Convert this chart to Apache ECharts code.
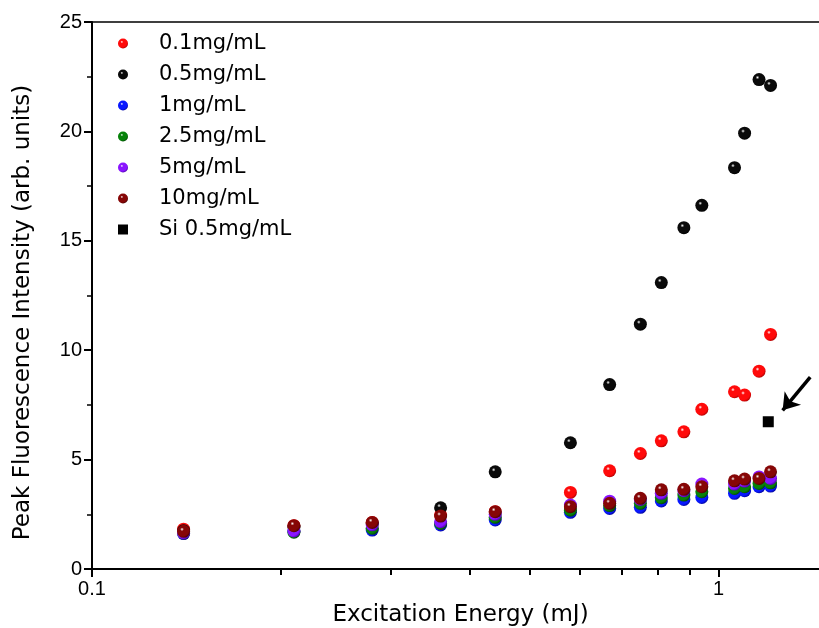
<!DOCTYPE html>
<html>
<head>
<meta charset="utf-8">
<script src="https://cdn.jsdelivr.net/npm/echarts@6/dist/echarts.min.js"></script>
<style>
  html, body { margin: 0; padding: 0; background: #fff; }
</style>
</head>
<body>
<div id="chart" style="width: 819px; height: 628px;"></div>
<script>
// excitation energy (mJ), shared by the six concentration series
const energy = [0.14, 0.21, 0.28, 0.36, 0.44, 0.58, 0.67, 0.75, 0.81, 0.88, 0.94, 1.06, 1.10, 1.16, 1.21]

const conc01 = [1.82, 1.98, 2.12, 2.48, 2.62, 3.50, 4.49, 5.28, 5.86, 6.27, 7.30, 8.10, 7.95, 9.04, 10.72]
const conc05 = [1.75, 1.92, 2.08, 2.80, 4.44, 5.77, 8.43, 11.19, 13.09, 15.60, 16.62, 18.34, 19.92, 22.37, 22.10]
const conc1 = [1.62, 1.72, 1.78, 2.01, 2.24, 2.59, 2.77, 2.82, 3.11, 3.18, 3.27, 3.46, 3.58, 3.76, 3.79]
const conc25 = [1.64, 1.68, 1.86, 2.08, 2.36, 2.69, 2.90, 3.00, 3.26, 3.38, 3.53, 3.68, 3.76, 3.91, 3.94]
const conc5 = [1.65, 1.74, 2.02, 2.16, 2.50, 2.92, 3.10, 3.18, 3.46, 3.58, 3.88, 3.88, 4.02, 4.21, 4.14]
const conc10 = [1.72, 1.98, 2.13, 2.42, 2.62, 2.85, 3.00, 3.23, 3.62, 3.64, 3.76, 4.03, 4.11, 4.14, 4.44]

const siEnergy = [1.20]
const siValue = [6.73]

const seriesNames = ['0.1mg/mL', '0.5mg/mL', '1mg/mL', '2.5mg/mL', '5mg/mL', '10mg/mL']
const seriesValues = [conc01, conc05, conc1, conc25, conc5, conc10]
const baseColors = ['#ff0a0a', '#0a0a0a', '#0818ff', '#07820a', '#8a14ff', '#860606']
const darkColors = ['#a00000', '#000000', '#00008c', '#003c00', '#40009c', '#400000']

const xLabels = [0.1, 1]
const xMinor = [0.2, 0.3, 0.4, 0.5, 0.6, 0.7, 0.8, 0.9]

// arrow pointing at the Si point (data coords)
const arrowFrom = [1.40, 8.77]
const arrowTo = [1.265, 7.25]

const font = 'Liberation Sans, Arial, sans-serif'
const wideFont = 'DejaVu Sans, Liberation Sans, sans-serif'

function sphere(base, dark) {
  return {
    type: 'radial', x: 0.38, y: 0.34, r: 0.72,
    colorStops: [
      { offset: 0, color: '#ffffff' },
      { offset: 0.2, color: base },
      { offset: 0.72, color: base },
      { offset: 1, color: dark }
    ]
  }
}

const series = seriesNames.map((name, i) => ({
  name: name,
  type: 'scatter',
  symbol: 'circle',
  symbolSize: 13,
  itemStyle: { color: sphere(baseColors[i], darkColors[i]), opacity: 1 },
  data: energy.map((x, j) => [x, seriesValues[i][j]])
}))

series.push({
  name: 'Si 0.5mg/mL',
  type: 'scatter',
  symbol: 'rect',
  symbolSize: 11,
  itemStyle: { color: '#000', opacity: 1 },
  data: siEnergy.map((x, j) => [x, siValue[j]]),
  markLine: {
    silent: true,
    symbol: ['none', 'arrow'],
    symbolSize: 16,
    label: { show: false },
    lineStyle: { color: '#000', width: 3.5, type: 'solid' },
    data: [[{ coord: arrowFrom }, { coord: arrowTo }]]
  }
})

const legendData = seriesNames.map(n => ({ name: n }))
legendData.push({ name: 'Si 0.5mg/mL', icon: 'rect' })

const chart = echarts.init(document.getElementById('chart'))
const options = {
  backgroundColor: '#fff',
  animation: false,
  textStyle: { fontFamily: font },
  grid: {
    left: 92, top: 22, bottom: 59, width: 737,
    outerBoundsMode: 'none',
    show: true, borderColor: '#000', borderWidth: 1.5
  },
  legend: {
    orient: 'vertical',
    left: 113,
    top: 28,
    itemWidth: 10,
    itemHeight: 10,
    itemGap: 10,
    textStyle: { fontSize: 21, lineHeight: 20, color: '#000', fontFamily: wideFont, padding: [0, 0, 0, 26] },
    data: legendData
  },
  xAxis: [
    {
      type: 'log',
      logBase: 10,
      min: 0.1,
      max: 1.5,
      name: 'Excitation Energy (mJ)',
      nameLocation: 'middle',
      nameGap: 29,
      nameTextStyle: { fontSize: 23, color: '#000', fontFamily: wideFont },
      axisLine: { lineStyle: { color: '#000', width: 2 } },
      axisTick: { length: 8, lineStyle: { width: 2, color: '#000' }, customValues: xLabels },
      axisLabel: {
        fontSize: 20, color: '#000', margin: 10, customValues: xLabels,
        formatter: (v) => String(Math.round(v * 10) / 10)
      },
      splitLine: { show: false }
    },
    {
      type: 'log',
      logBase: 10,
      min: 0.1,
      max: 1.5,
      position: 'bottom',
      axisLine: { show: false },
      axisTick: { length: 6, lineStyle: { width: 2, color: '#000' }, customValues: xMinor },
      axisLabel: { show: false },
      splitLine: { show: false }
    }
  ],
  yAxis: {
    type: 'value',
    min: 0,
    max: 25,
    interval: 5,
    name: 'Peak Fluorescence Intensity (arb. units)',
    nameLocation: 'middle',
    nameGap: 57,
    nameTextStyle: { fontSize: 23, color: '#000', fontFamily: wideFont, padding: [0, 34, 0, 0] },
    axisLine: { show: true, lineStyle: { color: '#000', width: 2 } },
    axisTick: { show: true, length: 8, lineStyle: { width: 2, color: '#000' } },
    minorTick: { show: true, splitNumber: 2, length: 5, lineStyle: { width: 1.5, color: '#000' } },
    axisLabel: { fontSize: 20, color: '#000', margin: 10 },
    splitLine: { show: false }
  },
  series: series
}
chart.setOption(options)
</script>
</body>
</html>
